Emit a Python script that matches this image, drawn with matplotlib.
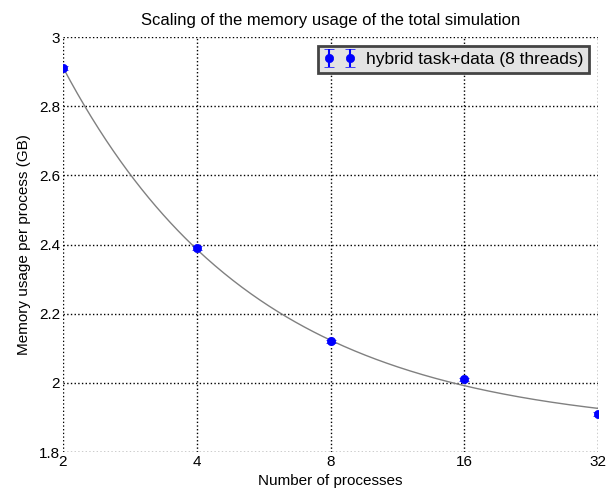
import matplotlib
matplotlib.use('Agg')
import matplotlib.pyplot as plt
import numpy as np
from matplotlib.ticker import FixedLocator, FuncFormatter

plt.rcParams['font.family'] = ['Liberation Sans', 'DejaVu Sans']

# данные
procs = np.array([2, 4, 8, 16, 32])
mem_gb = np.array([2.91, 2.39, 2.12, 2.01, 1.91])
mem_err = np.array([0.006, 0.005, 0.005, 0.005, 0.005])
xticks = [2, 4, 8, 16, 32]
yticks = [1.8, 2.0, 2.2, 2.4, 2.6, 2.8, 3.0]

# подгонка a + b/x по точкам
b, a = np.polyfit(1.0 / procs, mem_gb, 1)
xs = np.logspace(np.log2(2), np.log2(32), 300, base=2)

fig = plt.figure(figsize=(6.08, 4.94), dpi=100)
ax = fig.add_axes([0.1036, 0.085, 0.88, 0.84])

ax.plot(xs, a + b / xs, color='gray', lw=1.0, zorder=2)
ax.errorbar(procs, mem_gb, yerr=mem_err, fmt='o', color='blue', ms=6,
            mew=0.5, capsize=3.5, capthick=1.5, elinewidth=1.5, zorder=3,
            clip_on=True, label='hybrid task+data (8 threads)')

ax.set_xscale('log', base=2)
ax.set_xlim(2, 32)
ax.set_ylim(1.8, 3.0)
ax.xaxis.set_major_locator(FixedLocator(xticks))
ax.xaxis.set_minor_locator(FixedLocator([]))
ax.xaxis.set_major_formatter(FuncFormatter(lambda v, p: '%g' % v))
ax.yaxis.set_major_locator(FixedLocator(yticks))
ax.yaxis.set_major_formatter(FuncFormatter(lambda v, p: '%g' % v))

ax.grid(True, color='black', linestyle=':', linewidth=1.0)
for s in ax.spines.values():
    s.set_visible(False)
ax.tick_params(length=0, labelsize=11, pad=2)

ax.set_xlabel('Number of processes', fontsize=11, labelpad=4)
ax.set_ylabel('Memory usage per process (GB)', fontsize=11, labelpad=6)
ax.set_title('Scaling of the memory usage of the total simulation', fontsize=12, pad=9)

leg = ax.legend(loc='upper right', numpoints=2, fontsize=12.5, fancybox=False,
                borderaxespad=0.5, handlelength=1.8, handletextpad=0.6,
                borderpad=0.35)
leg.get_frame().set_facecolor('#e3e3e3')
leg.get_frame().set_edgecolor('#444444')
leg.get_frame().set_linewidth(2)
leg.get_frame().set_alpha(1)

plt.savefig('out.png')
